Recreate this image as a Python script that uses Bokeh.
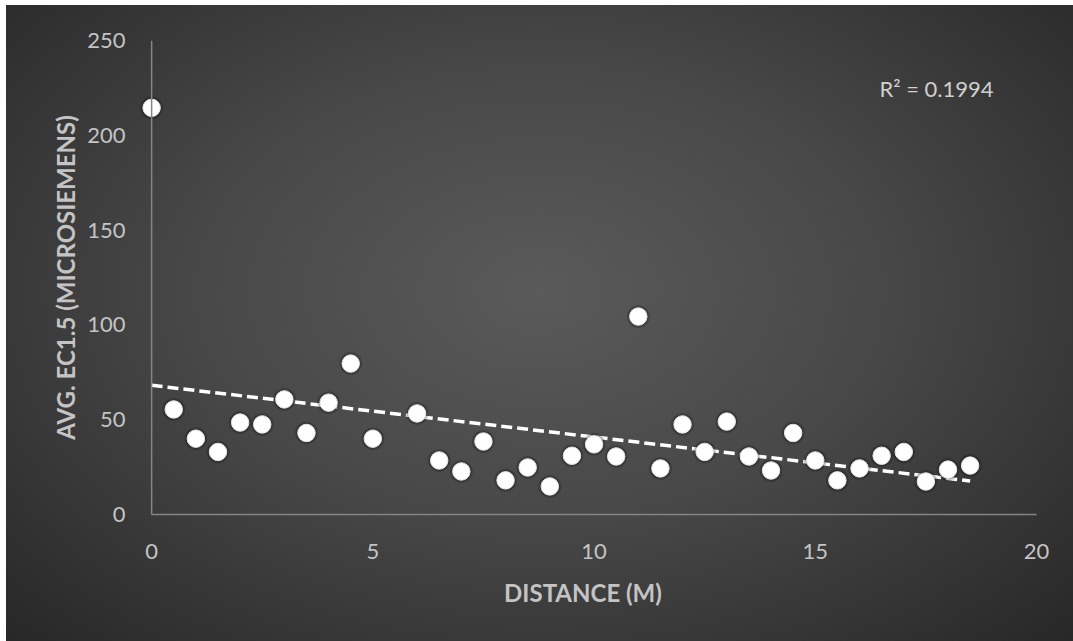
import numpy as np
from bokeh.plotting import figure
from bokeh.models import Range1d, FixedTicker, Label, Span
from bokeh.embed import file_html
from bokeh.resources import INLINE

# --- data ---
distance = [0, 0.5, 1, 1.5, 2, 2.5, 3, 3.5, 4, 4.5, 5, 6, 6.5, 7, 7.5, 8, 8.5, 9,
            9.5, 10, 10.5, 11, 11.5, 12, 12.5, 13, 13.5, 14, 14.5, 15, 15.5, 16,
            16.5, 17, 17.5, 18, 18.5]
ec = [214.5, 55.4, 40.0, 33.0, 48.5, 47.5, 60.7, 43.0, 59.0, 79.6, 40.0, 53.3,
      28.5, 22.7, 38.5, 18.0, 24.8, 14.8, 31.0, 37.0, 30.6, 104.4, 24.3, 47.5,
      33.0, 49.0, 30.6, 23.2, 43.0, 28.5, 18.0, 24.3, 31.0, 33.0, 17.4, 23.7, 25.8]
x_ticks = [0, 5, 10, 15, 20]
y_ticks = [0, 50, 100, 150, 200, 250]
r2_text = "R² = 0.1994"
x_title = "DISTANCE (M)"
y_title = "AVG. EC1.5 (MICROSIEMENS)"

# linear trend line fitted to the data
slope, intercept = np.polyfit(distance, ec, 1)
trend_x = [min(distance), max(distance)]
trend_y = [intercept + slope * v for v in trend_x]

FONT = "Lato"
TXT = "#c4c4c4"
AXIS_COLOR = "#858585"

p = figure(width=1067, height=636, output_backend="svg", toolbar_location=None,
           x_range=Range1d(-0.5, 20), y_range=Range1d(0, 250),
           min_border_left=123, min_border_right=37,
           min_border_top=35, min_border_bottom=127)

p.background_fill_color = None
p.border_fill_color = None
p.outline_line_color = None
p.styles = {"background": "radial-gradient(ellipse farthest-corner at 50% 45%, #5a5a5a 0%, #484848 45%, #272727 100%)",
            "margin-left": "6px", "margin-top": "5px",
            "box-shadow": "8px 8px 0 0 #262626"}
p.xgrid.visible = False
p.ygrid.visible = False

for ax, ticks in ((p.xaxis[0], x_ticks), (p.yaxis[0], y_ticks)):
    ax.ticker = FixedTicker(ticks=ticks)
    ax.major_tick_line_color = None
    ax.minor_tick_line_color = None
    ax.major_tick_out = 0
    ax.major_tick_in = 0
    ax.axis_line_color = AXIS_COLOR
    ax.axis_line_width = 1.5
    ax.major_label_text_font = FONT
    ax.major_label_text_font_size = "22px"
    ax.major_label_text_color = TXT
    ax.axis_label_text_font = FONT
    ax.axis_label_text_font_size = "24px"
    ax.axis_label_text_font_style = "bold"
    ax.axis_label_text_color = TXT

# the y axis line sits at x = 0 (the frame starts a little left of it so the
# first marker is not clipped)
p.yaxis.axis_line_color = None
p.add_layout(Span(location=0, dimension="height", line_color=AXIS_COLOR, line_width=1.5))
p.xaxis.bounds = (0, 20)
p.xaxis.axis_label = x_title
p.yaxis.axis_label = y_title
p.xaxis.major_label_standoff = 29
p.yaxis.major_label_standoff = 4
p.xaxis.axis_label_standoff = 16
p.yaxis.axis_label_standoff = 4

# trend line
p.line(trend_x, trend_y, line_color="white", line_width=3.5, line_dash="11 5")

# markers with soft shadow
p.scatter(distance, ec, size=23, fill_color="black", fill_alpha=0.16, line_color=None)
p.scatter(distance, ec, size=20, fill_color="black", fill_alpha=0.25, line_color=None)
p.scatter(distance, ec, size=17.5, fill_color="white", line_color="#e6e6e6", line_width=1)

p.add_layout(Label(x=16.45, y=224.5, text=r2_text, text_font=FONT,
                   text_font_size="22px", text_color="#d0d0d0",
                   text_baseline="middle", text_align="left"))

open("out.html", "w").write(file_html(p, INLINE))
